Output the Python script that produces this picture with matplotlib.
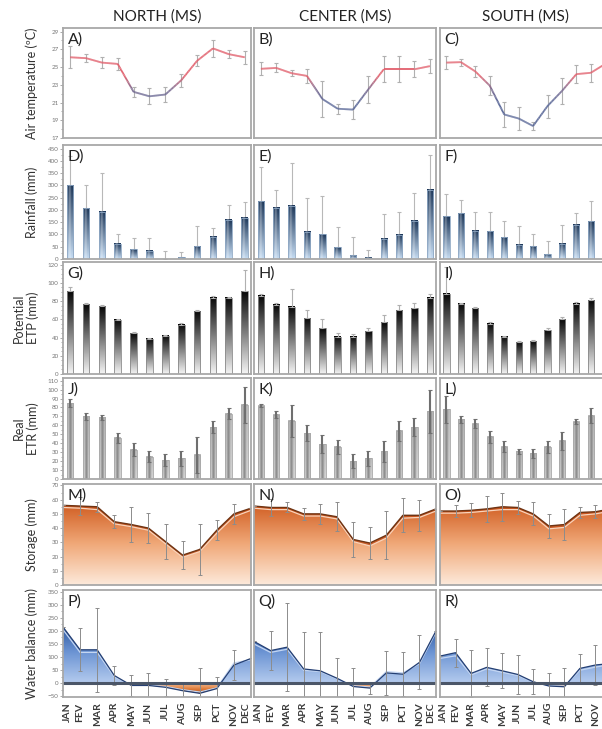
import numpy as np
import matplotlib
matplotlib.use('Agg')
import matplotlib.pyplot as plt
from matplotlib.colors import LinearSegmentedColormap, Normalize, to_rgb
from matplotlib.collections import LineCollection
from matplotlib.patches import PathPatch, Rectangle
from matplotlib.path import Path
from matplotlib.ticker import AutoMinorLocator

plt.rcParams['font.family'] = ['Lato', 'DejaVu Sans']

# ---- data ----
months = ['JAN', 'FEV', 'MAR', 'APR', 'MAY', 'JUN', 'JUL', 'AUG', 'SEP', 'PCT', 'NOV', 'DEC']
regions = ['NORTH (MS)', 'CENTER (MS)', 'SOUTH (MS)']

temp_n = [26.1, 26.0, 25.5, 25.35, 22.2, 21.7, 21.9, 23.5, 25.7, 27.1, 26.45, 26.1]
temp_n_err = [1.25, 0.45, 0.6, 0.65, 0.6, 0.9, 0.85, 0.7, 0.6, 1.0, 0.45, 0.75]
temp_c = [24.8, 24.9, 24.3, 24.0, 21.4, 20.3, 20.2, 22.5, 24.75, 24.75, 24.75, 25.1]
temp_c_err = [0.75, 0.5, 0.35, 0.8, 2.0, 0.55, 1.1, 1.5, 1.45, 1.45, 0.9, 0.8]
temp_s = [25.5, 25.55, 24.5, 22.9, 19.65, 19.2, 18.35, 20.6, 22.3, 24.2, 24.35, 25.35]
temp_s_err = [0.7, 0.4, 0.6, 1.1, 1.4, 1.3, 0.4, 1.3, 1.5, 1.0, 1.0, 0.8]

rain_n = [300, 208, 193, 63, 40, 33, 0, 7, 52, 90, 160, 168]
rain_n_err = [120, 92, 157, 37, 45, 51, 33, 20, 81, 35, 62, 65]
rain_c = [235, 210, 217, 112, 100, 48, 15, 5, 83, 98, 157, 282]
rain_c_err = [140, 72, 175, 135, 158, 82, 75, 30, 99, 92, 113, 143]
rain_s = [175, 187, 115, 113, 88, 58, 53, 20, 62, 140, 155, 162]
rain_s_err = [90, 55, 78, 79, 67, 77, 50, 53, 75, 47, 83, 60]

etp_n = [91, 76.5, 74.5, 59.5, 45, 38.5, 42, 54, 69, 83.5, 83.5, 91]
etp_n_err = [4, 1.5, 1.5, 1, 1, 1, 1, 1.5, 1, 2, 1.5, 23]
etp_c = [86, 76, 74, 61, 50, 41, 41, 47, 57, 70, 72, 84]
etp_c_err = [2, 2, 19, 9, 10, 4, 3, 4, 8, 6, 6, 4]
etp_s = [88, 77, 72, 55, 41, 35, 36, 48, 60, 77, 81, 88]
etp_s_err = [29, 1, 2, 2, 1, 1, 1, 2, 3, 2, 3, 2]

etr_n = [85, 70, 69, 46, 33, 25, 21, 23, 27, 58, 73, 83]
etr_n_err = [4, 4, 3, 6, 7, 6, 7, 8, 20, 7, 6, 20]
etr_c = [82, 72, 65, 51, 39, 36, 20, 23, 31, 54, 58, 76]
etr_c_err = [2, 4, 18, 9, 10, 8, 8, 8, 12, 11, 10, 24]
etr_s = [78, 67, 62, 47, 36, 31, 29, 36, 43, 64, 71, 80]
etr_s_err = [15, 4, 5, 7, 6, 3, 5, 7, 10, 3, 8, 6]

stor_n = [56, 55.5, 55, 44.5, 42.5, 40, 30.5, 21, 25, 38.5, 50, 54]
stor_n_low = [54.5, 54, 53, 43, 41, 38.5, 29, 19.5, 23.5, 36.5, 48, 52.5]
stor_n_err = [0, 6.5, 3.5, 4.5, 12, 10.5, 12.5, 10, 18, 7, 7, 0]
stor_c = [55.5, 54.5, 54.5, 50, 50, 48, 32, 29.5, 35, 49, 49, 53.5]
stor_c_low = [54, 53, 53, 48.5, 48.5, 46.5, 30.5, 27.5, 33, 47, 47.5, 52]
stor_c_err = [0, 6, 3.5, 4, 7, 10, 12, 11, 17, 12, 11, 0]
stor_s = [52, 52, 52.5, 53.5, 55, 54.5, 50, 41.5, 42.5, 51, 51.5, 53.5]
stor_s_low = [50.5, 50.5, 51, 52, 53, 53, 48.5, 39.5, 40.5, 49, 50, 52]
stor_s_err = [0, 4, 5, 9, 10, 4.5, 8, 8.5, 11, 4, 4.5, 0]

wb_n = [215, 128, 128, 30, -8, -8, -15, -28, -38, -20, 70, 95]
wb_n_light = [205, 118, 118, 25, -6, -6, -12, -24, -33, -17, 78, 90]
wb_n_err = [0, 82, 160, 38, 40, 48, 33, 30, 95, 45, 57, 0]
wb_c = [160, 125, 138, 55, 48, 20, -12, -18, 40, 35, 80, 200]
wb_c_light = [150, 118, 130, 50, 45, 18, -9, -14, 45, 40, 75, 195]
wb_c_err = [0, 75, 167, 140, 147, 75, 72, 23, 85, 83, 103, 0]
wb_s = [104, 117, 38, 61, 48, 34, 6, -10, -13, 57, 70, 76]
wb_s_light = [95, 105, 32, 55, 42, 30, 5, -8, -10, 50, 62, 72]
wb_s_err = [0, 53, 89, 72, 66, 74, 47, 48, 73, 54, 78, 0]

# ---- layout (pixels of the 602x729 picture) ----
W, H = 602, 729
fig = plt.figure(figsize=(W / 100, H / 100), dpi=100)
col_x = [(63, 251), (254, 436), (440, 611)]
row_y = [(28, 138), (145, 259), (262, 374), (378, 479), (484, 585), (590, 697)]
letters = 'ABCDEFGHIJKLMNOPQR'
x = np.arange(12)
BAR_LIM = (-0.45, 11.4)
# month labels: end labels pulled a little inside the panel
label_pos = x + np.r_[0.25, np.zeros(10), -0.3]


def make_ax(r, c):
    x0, x1 = col_x[c]
    y0, y1 = row_y[r]
    ax = fig.add_axes([x0 / W, 1 - y1 / H, (x1 - x0) / W, (y1 - y0) / H])
    for s in ax.spines.values():
        s.set_color('#a8a8a8')
        s.set_linewidth(1.3)
        s.set_zorder(10)
    ax.set_xticks([])
    ax.tick_params(axis='y', which='both', labelsize=4.5, colors='#888', labelcolor='#777',
                   length=2, width=0.5, pad=1)
    ax.tick_params(axis='y', which='minor', length=1.2)
    ax.text(0.025, 0.96, letters[r * 3 + c] + ')', transform=ax.transAxes, ha='left', va='top',
            fontsize=11.5, color='#222', zorder=12)
    return ax


def set_y(ax, c, lim, ticks, minor=2):
    ax.set_ylim(*lim)
    if c == 0:
        ax.set_yticks(ticks)
        ax.yaxis.set_minor_locator(AutoMinorLocator(minor))
    else:
        ax.set_yticks([])
        ax.yaxis.set_minor_locator(plt.NullLocator())


def bar_img(top, bottom, highlight=0.0, center_dark=None, nx=20, ny=80):
    top = np.array(to_rgb(top))
    bottom = np.array(to_rgb(bottom))
    v = np.linspace(0, 1, ny)[:, None, None]
    img = bottom + (top - bottom) * v
    img = np.repeat(img, nx, axis=1)
    u = np.linspace(0, 1, nx)[None, :, None]
    if highlight:
        hl = np.exp(-((u - 0.4) / 0.15) ** 2) * highlight
        img = img + (1 - img) * hl
    if center_dark is not None:
        cd = np.array(to_rgb(center_dark))
        w = np.exp(-((u - 0.5) / 0.22) ** 2)
        img = img * (1 - w) + cd * w
    return np.clip(img, 0, 1)


def grad_bars(ax, vals, img, width, edge):
    for xi, hi in zip(x, vals):
        if hi <= 0:
            continue
        ax.imshow(img, extent=[xi - width / 2, xi + width / 2, 0, hi], origin='lower',
                  aspect='auto', zorder=2, interpolation='bilinear')
        ax.add_patch(Rectangle((xi - width / 2, 0), width, hi, fill=False, ec=edge, lw=0.6, zorder=3))


def grad_area(ax, xs, ys, base, colors, vmin, vmax, where=None):
    coll = ax.fill_between(xs, ys, base, where=where, interpolate=True,
                           facecolor='none', edgecolor='none')
    paths = [p for p in coll.get_paths() if len(p.vertices)]
    if not paths:
        return
    path = Path.make_compound_path(*paths)
    patch = PathPatch(path, transform=ax.transData, facecolor='none', edgecolor='none')
    ax.add_patch(patch)
    cmap = LinearSegmentedColormap.from_list('g', colors)
    grad = np.linspace(0, 1, 256).reshape(-1, 1)
    im = ax.imshow(grad, extent=[xs[0], xs[-1], vmin, vmax], origin='lower', aspect='auto',
                   cmap=cmap, vmin=0, vmax=1, zorder=1)
    im.set_clip_path(patch)


tcmap = LinearSegmentedColormap.from_list('t', ['#5a6898', '#7a6a90', '#e25f6c'])


def temp_line(ax, vals):
    xx, yy = [], []
    for i in range(11):
        t = np.linspace(0, 1, 25)
        xx.append(x[i] + t)
        yy.append(vals[i] + (vals[i + 1] - vals[i]) * t)
    xx = np.concatenate(xx)
    yy = np.concatenate(yy)
    pts = np.array([xx, yy]).T.reshape(-1, 1, 2)
    segs = np.concatenate([pts[:-1], pts[1:]], axis=1)
    lc = LineCollection(segs, cmap=tcmap, norm=Normalize(21.0, 24.0), lw=1.3, zorder=4)
    lc.set_array((yy[:-1] + yy[1:]) / 2)
    ax.add_collection(lc)


temps = [(temp_n, temp_n_err), (temp_c, temp_c_err), (temp_s, temp_s_err)]
rains = [(rain_n, rain_n_err), (rain_c, rain_c_err), (rain_s, rain_s_err)]
etps = [(etp_n, etp_n_err), (etp_c, etp_c_err), (etp_s, etp_s_err)]
etrs = [(etr_n, etr_n_err), (etr_c, etr_c_err), (etr_s, etr_s_err)]
stors = [(stor_n, stor_n_low, stor_n_err), (stor_c, stor_c_low, stor_c_err),
         (stor_s, stor_s_low, stor_s_err)]
wbs = [(wb_n, wb_n_light, wb_n_err), (wb_c, wb_c_light, wb_c_err), (wb_s, wb_s_light, wb_s_err)]

rain_img = bar_img('#1c3658', '#c6dcf2', highlight=0.35)
etp_img = bar_img('#080808', '#f4f4f4')
etr_img = bar_img('#bdbdbd', '#d6d6d6', center_dark='#8a8a8a')

for c in range(3):
    # air temperature
    ax = make_ax(0, c)
    v, e = temps[c]
    ax.errorbar(x, v, yerr=e, fmt='none', ecolor='#b0b0b0', elinewidth=0.8, capsize=1.5,
                capthick=0.8, zorder=3)
    temp_line(ax, v)
    ax.set_xlim(*BAR_LIM)
    set_y(ax, c, (17, 29.4), range(17, 30, 2))

    # rainfall
    ax = make_ax(1, c)
    v, e = rains[c]
    ax.errorbar(x, v, yerr=[np.zeros(12), e], fmt='none', ecolor='#b8b8b8', elinewidth=0.8,
                capsize=1.5, capthick=0.8, zorder=1)
    grad_bars(ax, v, rain_img, 0.42, '#8fa8c4')
    ax.set_xlim(*BAR_LIM)
    set_y(ax, c, (0, 465), range(0, 451, 50))

    # potential ETP
    ax = make_ax(2, c)
    v, e = etps[c]
    grad_bars(ax, v, etp_img, 0.42, '#8a8a8a')
    ax.errorbar(x, v, yerr=[np.zeros(12), e], fmt='none', ecolor='#b0b0b0', elinewidth=0.8,
                capsize=1.5, capthick=0.8, zorder=4)
    ax.set_xlim(*BAR_LIM)
    set_y(ax, c, (0, 123), range(0, 121, 20), minor=4)

    # real ETR
    ax = make_ax(3, c)
    v, e = etrs[c]
    grad_bars(ax, v, etr_img, 0.42, '#a6a6a6')
    ax.errorbar(x, v, yerr=e, fmt='none', ecolor='#6f6f6f', elinewidth=1.5, capsize=1.5,
                capthick=0.8, zorder=4)
    ax.set_xlim(*BAR_LIM)
    set_y(ax, c, (0, 113), range(0, 111, 10))

    # storage
    ax = make_ax(4, c)
    v, lo, e = stors[c]
    grad_area(ax, x, v, 0, ['#fdeadb', '#f0a878', '#cf5a1e'], 0, 58)
    ax.fill_between(x, v, lo, facecolor='#c4501a', edgecolor='none', alpha=0.85, zorder=2)
    ax.plot(x, lo, color='#f8d4bc', lw=0.9, zorder=3)
    ax.plot(x, v, color='#6e3414', lw=1.0, zorder=3)
    ax.errorbar(x, v, yerr=e, fmt='none', ecolor='#8c8c8c', elinewidth=0.7, capsize=1.5,
                capthick=0.7, zorder=4)
    ax.set_xlim(0, 11)
    set_y(ax, c, (0, 71), range(0, 71, 10))

    # water balance
    ax = make_ax(5, c)
    v, lt, e = wbs[c]
    va = np.array(v, dtype=float)
    grad_area(ax, x, va, 0, ['#b4cbee', '#6d95d4', '#234f98'], 0, 230, where=va >= 0)
    grad_area(ax, x, va, 0, ['#9c4516', '#e07c3a', '#f6c096'], -45, 0, where=va <= 0)
    ax.plot(x, lt, color='#c4d6f2', lw=0.9, zorder=3)
    ax.plot(x, v, color='#243f73', lw=0.9, zorder=3)
    ax.errorbar(x, v, yerr=e, fmt='none', ecolor='#8c8c8c', elinewidth=0.7, capsize=1.5,
                capthick=0.7, zorder=4)
    ax.axhline(0, color='#4b5668', lw=2.2, zorder=5)
    ax.set_xlim(0, 11)
    set_y(ax, c, (-52, 356), range(-50, 351, 50))
    ax.set_xticks(label_pos)
    ax.set_xticklabels(months, rotation=90, fontsize=7.5, color='#3a3a3a', fontweight='bold')
    ax.tick_params(axis='x', length=0, labelcolor='#3a3a3a', pad=4)

    fig.text((col_x[c][0] + col_x[c][1]) / 2 / W, 1 - 17 / H, regions[c], ha='center',
             va='center', fontsize=11, color='#222')

ylabels = ['Air temperature (ºC)', 'Rainfall (mm)', 'Potential\nETP (mm)', 'Real\nETR (mm)',
           'Storage (mm)', 'Water balance (mm)']
for r, lab in enumerate(ylabels):
    yc = 1 - (row_y[r][0] + row_y[r][1]) / 2 / H
    xc = 26 if '\n' in lab else 32
    fig.text(xc / W, yc, lab, rotation=90, ha='center', va='center', fontsize=9,
             color='#333', linespacing=1.15)

fig.savefig('out.png', dpi=100)
